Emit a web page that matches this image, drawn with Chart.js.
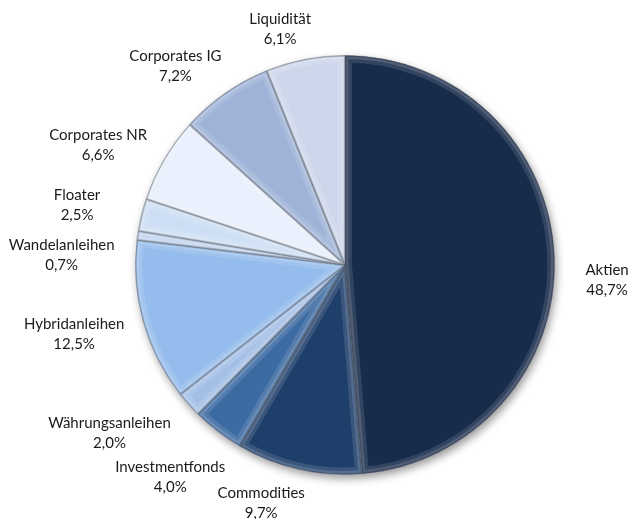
<!DOCTYPE html>
<html>
<head>
<meta charset="utf-8">
<script src="https://cdn.jsdelivr.net/npm/chart.js@4.4.0/dist/chart.umd.min.js"></script>
<style>
  html, body { margin: 0; padding: 0; background: #fff; }
</style>
</head>
<body>
<canvas id="myChart" width="630" height="519"></canvas>
<script>
// data (percent of portfolio, clockwise from 12 o'clock)
const categories = ['Aktien', 'Commodities', 'Investmentfonds', 'Währungsanleihen', 'Hybridanleihen',
  'Wandelanleihen', 'Floater', 'Corporates NR', 'Corporates IG', 'Liquidität'];
const shares = [48.7, 9.7, 4.0, 2.0, 12.5, 0.7, 2.5, 6.6, 7.2, 6.1];

const sliceColors = ['#172b4a', '#1f3f6b', '#3c6aa2', '#a3bfe6', '#94bcec',
  '#bfd3ee', '#cddff4', '#e7f0fc', '#9fb3d8', '#cdd7eb'];

// label placement: extra distance past the rim (px) and angle nudge (deg)
const labelGap = [53, 43, 65, 80, 70, 74, 65, 65, 52, 35];
const labelNudge = [5.6, 6.6, 2.1, 6.2, 1.4, -6.1, -1.3, -4.3, -5.5, -4.4];

const FONT = '15px Lato, "Liberation Sans", sans-serif';

// soft drop shadow under the whole pie
const pieShadow = {
  id: 'pieShadow',
  beforeDatasetsDraw(chart) {
    const arc = chart.getDatasetMeta(0).data[0];
    if (!arc) return;
    const { x, y, outerRadius } = arc.getProps(['x', 'y', 'outerRadius'], true);
    const ctx = chart.ctx;
    ctx.save();
    ctx.shadowColor = 'rgba(0,0,0,0.4)';
    ctx.shadowBlur = 9;
    ctx.shadowOffsetX = 2;
    ctx.shadowOffsetY = 4;
    ctx.fillStyle = '#fff';
    ctx.beginPath();
    ctx.arc(x, y, outerRadius, 0, Math.PI * 2);
    ctx.fill();
    ctx.restore();
  }
};

// rough bevel: light band inside each slice edge, soft dark line on the edge
const bevel = {
  id: 'bevel',
  afterDatasetsDraw(chart) {
    const ctx = chart.ctx;
    chart.getDatasetMeta(0).data.forEach((arc) => {
      const { x, y, startAngle, endAngle, outerRadius } =
        arc.getProps(['x', 'y', 'startAngle', 'endAngle', 'outerRadius'], true);
      const path = new Path2D();
      path.moveTo(x, y);
      path.arc(x, y, outerRadius, startAngle, endAngle);
      path.closePath();
      ctx.save();
      ctx.clip(path);
      ctx.lineJoin = 'round';
      ctx.lineWidth = 14;
      ctx.strokeStyle = 'rgba(255,255,255,0.12)';
      ctx.stroke(path);
      ctx.lineWidth = 7;
      ctx.strokeStyle = 'rgba(255,255,255,0.14)';
      ctx.stroke(path);
      ctx.lineWidth = 2.5;
      ctx.strokeStyle = 'rgba(0,0,0,0.18)';
      ctx.stroke(path);
      ctx.restore();
    });
  }
};

const outsideLabels = {
  id: 'outsideLabels',
  afterDraw(chart) {
    const ctx = chart.ctx;
    ctx.save();
    ctx.font = FONT;
    ctx.fillStyle = '#1a1a1a';
    ctx.textAlign = 'center';
    ctx.textBaseline = 'middle';
    chart.getDatasetMeta(0).data.forEach((arc, i) => {
      const { x, y, startAngle, endAngle, outerRadius } =
        arc.getProps(['x', 'y', 'startAngle', 'endAngle', 'outerRadius'], true);
      const mid = (startAngle + endAngle) / 2 + labelNudge[i] * Math.PI / 180;
      const d = outerRadius + labelGap[i];
      const lx = x + Math.cos(mid) * d;
      const ly = y + Math.sin(mid) * d;
      const pct = shares[i].toFixed(1).replace('.', ',') + '%';
      ctx.fillText(categories[i], lx, ly - 10);
      ctx.fillText(pct, lx, ly + 10);
    });
    ctx.restore();
  }
};

new Chart(document.getElementById('myChart'), {
  type: 'pie',
  data: {
    labels: categories,
    datasets: [{
      data: shares,
      backgroundColor: sliceColors,
      borderColor: 'rgba(40,50,70,0.35)',
      borderWidth: 1
    }]
  },
  options: {
    responsive: false,
    animation: false,
    layout: { padding: { left: 120, right: 60, top: 55, bottom: 44 } },
    plugins: {
      legend: { display: false },
      tooltip: { enabled: false }
    }
  },
  plugins: [pieShadow, bevel, outsideLabels]
});
</script>
</body>
</html>
